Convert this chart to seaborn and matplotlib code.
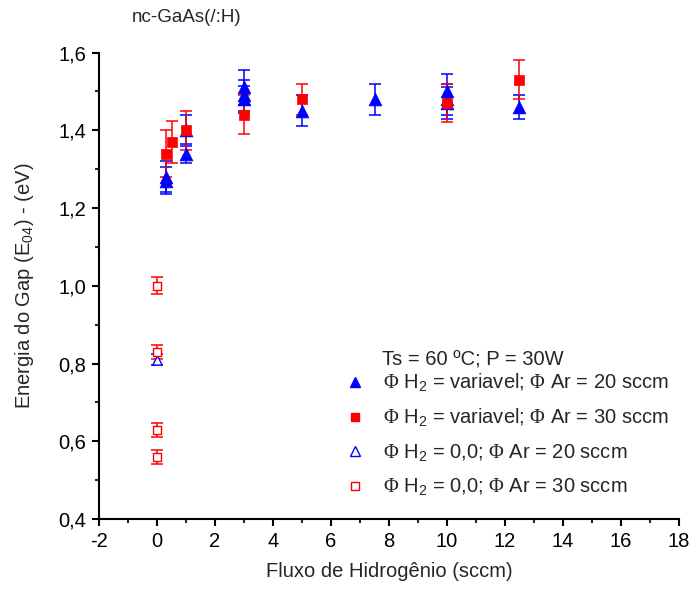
import numpy as np
import pandas as pd
import matplotlib
matplotlib.use("Agg")
import matplotlib.pyplot as plt
from matplotlib.ticker import MultipleLocator, FuncFormatter
from matplotlib.lines import Line2D
import seaborn as sns

# Series: H2 flow varied, Ar = 20 sccm (filled triangles)
h2_ar20 = [0.3, 0.3, 1.0, 1.0, 3.0, 3.0, 3.0, 5.0, 7.5, 10.0, 10.0, 10.0, 12.5]
gap_ar20 = [1.28, 1.27, 1.40, 1.34, 1.51, 1.49, 1.48, 1.45, 1.48, 1.50, 1.48, 1.47, 1.46]
err_ar20 = [0.04, 0.035, 0.04, 0.025, 0.045, 0.04, 0.035, 0.04, 0.04, 0.045, 0.04, 0.04, 0.03]

# Series: H2 flow varied, Ar = 30 sccm (filled squares)
h2_ar30 = [0.3, 0.5, 1.0, 3.0, 5.0, 10.0, 12.5]
gap_ar30 = [1.34, 1.37, 1.40, 1.44, 1.48, 1.47, 1.53]
err_ar30 = [0.06, 0.055, 0.05, 0.05, 0.04, 0.05, 0.05]

# Series: no H2, Ar = 20 sccm (open triangle)
h2_0_ar20 = [0.0]
gap_0_ar20 = [0.81]
err_0_ar20 = [0.015]

# Series: no H2, Ar = 30 sccm (open squares)
h2_0_ar30 = [0.0, 0.0, 0.0, 0.0]
gap_0_ar30 = [1.00, 0.83, 0.63, 0.56]
err_0_ar30 = [0.022, 0.018, 0.018, 0.018]

labels = [
    r"$\Phi$ H$_\mathsf{2}$ = variavel; $\Phi$ Ar = 20 sccm",
    r"$\Phi$ H$_\mathsf{2}$ = variavel; $\Phi$ Ar = 30 sccm",
    r"$\Phi$ H$_\mathsf{2}$ = 0,0; $\Phi$ Ar = 20 sccm",
    r"$\Phi$ H$_\mathsf{2}$ = 0,0; $\Phi$ Ar = 30 sccm",
]

sns.set_theme(style="ticks")
plt.rcParams["font.family"] = ["Liberation Sans", "DejaVu Sans"]
plt.rcParams["mathtext.fontset"] = "custom"
plt.rcParams["mathtext.rm"] = "Liberation Serif"
plt.rcParams["mathtext.sf"] = "Liberation Sans"
plt.rcParams["mathtext.it"] = "Liberation Sans:italic"

BLUE = "#0000ff"
RED = "#ff0000"
FS = 14.5

fig = plt.figure(figsize=(6.92, 5.90), dpi=100)
ax = fig.add_axes([0.1431, 0.1203, 0.8381, 0.7907])

series = [
    (h2_ar20, gap_ar20, err_ar20, BLUE, "^", True, 85),
    (h2_ar30, gap_ar30, err_ar30, RED, "s", True, 55),
    (h2_0_ar20, gap_0_ar20, err_0_ar20, BLUE, "^", False, 45),
    (h2_0_ar30, gap_0_ar30, err_0_ar30, RED, "s", False, 40),
]

for x, y, e, col, mk, filled, size in series:
    ax.errorbar(x, y, yerr=e, fmt="none", ecolor=col, elinewidth=1.1,
                capsize=4, capthick=1.1, zorder=2)
    df = pd.DataFrame({"x": x, "y": y})
    if filled:
        sns.scatterplot(data=df, x="x", y="y", ax=ax, marker=mk, s=size,
                        color=col, edgecolor=col, linewidth=0.5, zorder=3,
                        legend=False)
    else:
        sns.scatterplot(data=df, x="x", y="y", ax=ax, marker=mk, s=size,
                        facecolor="white", edgecolor=col, linewidth=1.0,
                        zorder=3, legend=False)

ax.set_xlim(-2, 18)
ax.set_ylim(0.4, 1.6)
ax.xaxis.set_major_locator(MultipleLocator(2))
ax.xaxis.set_minor_locator(MultipleLocator(1))
ax.yaxis.set_major_locator(MultipleLocator(0.2))
ax.yaxis.set_minor_locator(MultipleLocator(0.1))
ax.yaxis.set_major_formatter(FuncFormatter(lambda v, p: f"{v:.1f}".replace(".", ",")))
ax.xaxis.set_major_formatter(FuncFormatter(lambda v, p: f"{v:.0f}"))

for side in ("top", "right"):
    ax.spines[side].set_visible(False)
for side in ("left", "bottom"):
    ax.spines[side].set_linewidth(1.5)
    ax.spines[side].set_color("black")
ax.tick_params(which="major", direction="out", length=5, width=1.5,
               labelsize=FS, colors="black", pad=4)
ax.tick_params(which="minor", direction="out", length=3, width=1.5)

ax.set_xlabel("Fluxo de Hidrogênio (sccm)", fontsize=FS, labelpad=8)
ax.set_ylabel(r"Energia do Gap (E$_\mathsf{04}$) - (eV)", fontsize=FS, labelpad=16)

fig.text(187 / 692, 1 - 17 / 590, "nc-GaAs(/:H)", fontsize=13.5,
         ha="center", va="center")

handles = [
    Line2D([], [], linestyle="none", marker="^", markersize=7.5, color=BLUE),
    Line2D([], [], linestyle="none", marker="s", markersize=6, color=RED),
    Line2D([], [], linestyle="none", marker="^", markersize=6.5,
           markerfacecolor="white", markeredgecolor=BLUE),
    Line2D([], [], linestyle="none", marker="s", markersize=6,
           markerfacecolor="white", markeredgecolor=RED),
]
ax.text(382, 590 - 360, "Ts = 60 ºC; P = 30W", transform=None,
        fontsize=FS, ha="left", va="center")
leg = ax.legend(handles, labels, loc="upper left",
                bbox_to_anchor=(345 / 692, 1 - 372 / 590),
                bbox_transform=fig.transFigure, frameon=False, fontsize=FS,
                handlelength=1.0, handletextpad=0.9, labelspacing=0.64,
                borderaxespad=0, borderpad=0)

fig.savefig("out.png", dpi=100)
